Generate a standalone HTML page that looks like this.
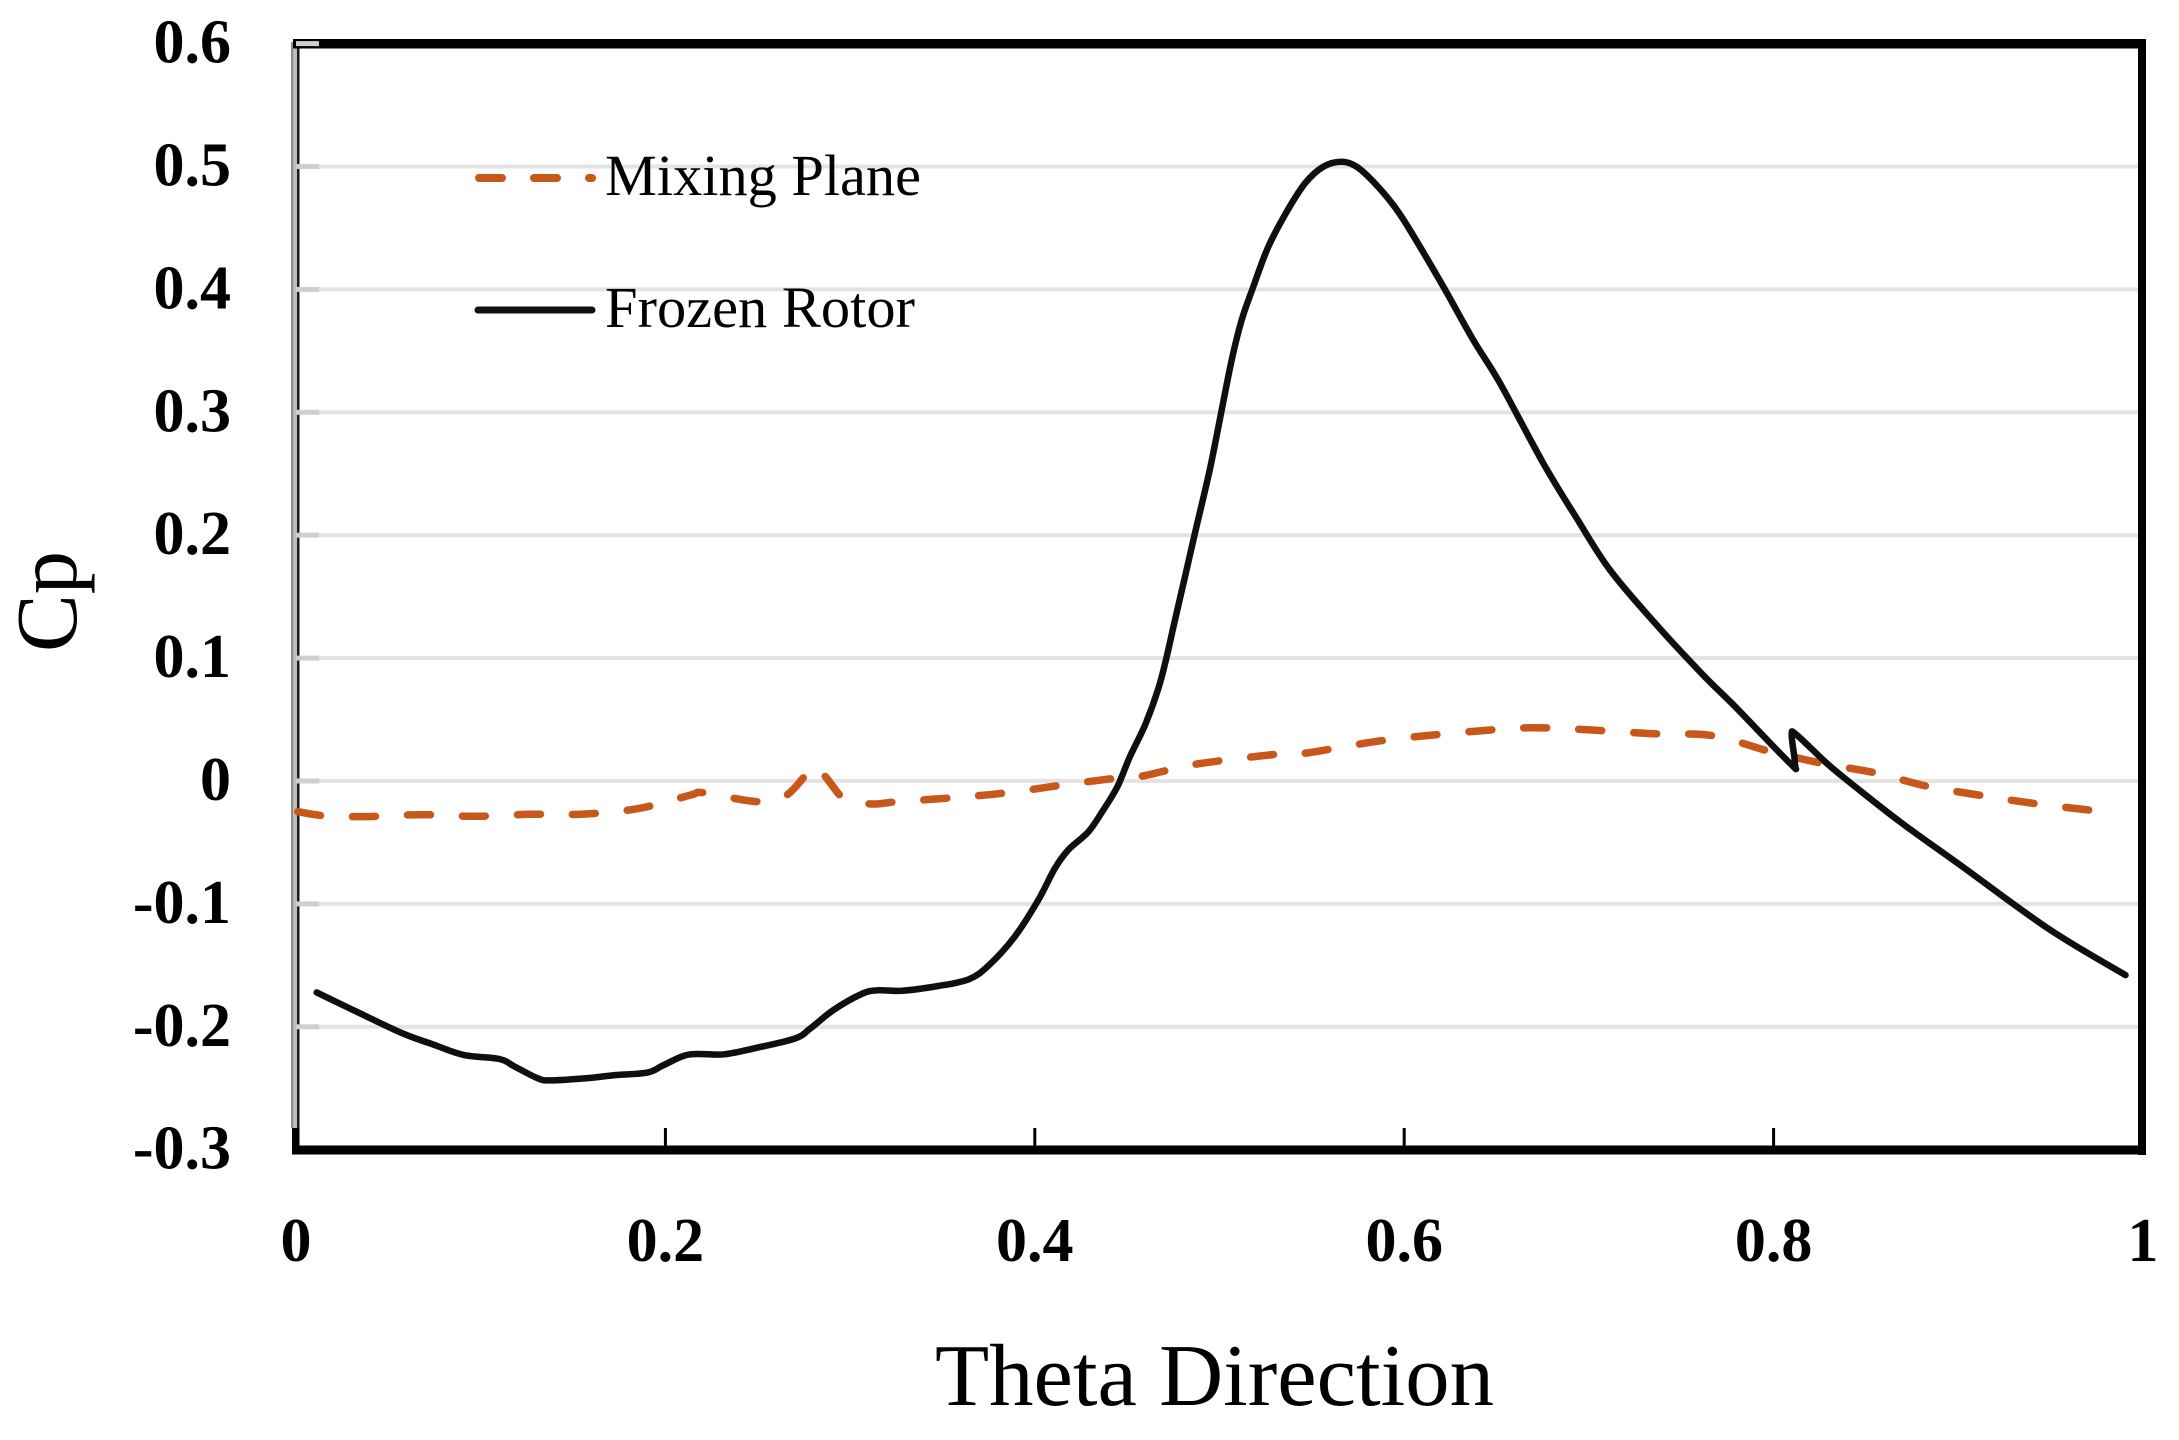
<!DOCTYPE html>
<html lang="en">
<head>
<meta charset="utf-8">
<title>Cp vs Theta Direction</title>
<style>
html,body{margin:0;padding:0;background:#fff;}
svg{display:block;}
text{font-family:"Liberation Serif",serif;fill:#000;}
.tick{font-size:62px;font-weight:bold;}
.legend-text{font-size:58px;}
</style>
</head>
<body>
<svg id="chart" width="2179" height="1440" viewBox="0 0 2179 1440" xmlns="http://www.w3.org/2000/svg">
  <g id="grid"></g>
  <rect x="291" y="42" width="2" height="1086" fill="#8a8a8a"/>
  <rect x="293" y="42" width="4" height="1086" fill="#bdbdbd"/>
  <rect x="297" y="46" width="2.5" height="1082" fill="#1c1c1c"/>
  <rect x="292" y="1128" width="7.5" height="26" fill="#000"/>
  <rect x="293" y="39" width="1853" height="9.5" fill="#000"/>
  <rect x="2138" y="39" width="8" height="1116" fill="#000"/>
  <rect x="292" y="1145.5" width="1854" height="9" fill="#000"/>
  <g id="stubs"></g>
  <g id="xticks"></g>
  <g id="ylabels"></g>
  <g id="xlabels"></g>
  <path id="mixing" fill="none" stroke="#c8581a" stroke-width="7.5" stroke-linecap="round" stroke-linejoin="round" stroke-dasharray="23 32"/>
  <path id="frozen" fill="none" stroke="#0f0f0f" stroke-width="6.5" stroke-linecap="round" stroke-linejoin="round"/>
  <g>
    <line x1="479" y1="178" x2="592" y2="178" stroke="#c8581a" stroke-width="8" stroke-linecap="round" stroke-dasharray="23 32"/>
    <text class="legend-text" x="605" y="195" textLength="316" lengthAdjust="spacingAndGlyphs">Mixing Plane</text>
    <line x1="478" y1="310" x2="592" y2="310" stroke="#111" stroke-width="7" stroke-linecap="round"/>
    <text class="legend-text" x="605" y="327" textLength="310" lengthAdjust="spacingAndGlyphs">Frozen Rotor</text>
  </g>
  <text x="935" y="1405" font-size="88" textLength="559" lengthAdjust="spacingAndGlyphs">Theta Direction</text>
  <text transform="translate(76,652) rotate(-90)" x="0" y="0" font-size="87" textLength="101" lengthAdjust="spacingAndGlyphs">Cp</text>
</svg>
<script>
var yTickValues = [0.6, 0.5, 0.4, 0.3, 0.2, 0.1, 0, -0.1, -0.2, -0.3];
var yTickLabels = ["0.6", "0.5", "0.4", "0.3", "0.2", "0.1", "0", "-0.1", "-0.2", "-0.3"];
var xTickValues = [0, 0.2, 0.4, 0.6, 0.8, 1];
var xTickLabels = ["0", "0.2", "0.4", "0.6", "0.8", "1"];

var frozenTheta = [0.0112, 0.0328, 0.0576, 0.0742, 0.0908, 0.1101, 0.1184, 0.1309, 0.1377, 0.157, 0.1736, 0.1902, 0.1985, 0.2095, 0.2179, 0.2317, 0.2482, 0.2703, 0.2786, 0.291, 0.3062, 0.3146, 0.3283, 0.3477, 0.3643, 0.3753, 0.3891, 0.4019, 0.4109, 0.4181, 0.429, 0.4371, 0.4447, 0.4515, 0.4597, 0.4669, 0.4714, 0.4759, 0.4813, 0.4867, 0.4949, 0.5012, 0.5066, 0.512, 0.5183, 0.5264, 0.5364, 0.5463, 0.5562, 0.5662, 0.5743, 0.5833, 0.5941, 0.6031, 0.6212, 0.6374, 0.6519, 0.6753, 0.6934, 0.7114, 0.7367, 0.7619, 0.78, 0.8089, 0.8116, 0.8098, 0.8125, 0.8288, 0.8431, 0.8684, 0.9009, 0.9495, 0.9905];
var frozenCp = [-0.172, -0.1877, -0.2053, -0.2143, -0.2229, -0.2262, -0.2324, -0.2419, -0.2436, -0.2419, -0.2392, -0.2373, -0.2316, -0.2238, -0.2221, -0.2224, -0.2175, -0.2094, -0.2012, -0.1863, -0.1733, -0.1703, -0.1706, -0.1668, -0.1613, -0.1497, -0.1267, -0.0968, -0.071, -0.0561, -0.0413, -0.0236, -0.0046, 0.0198, 0.0456, 0.0754, 0.1011, 0.131, 0.1662, 0.2015, 0.2544, 0.3019, 0.3426, 0.3751, 0.4022, 0.4347, 0.4632, 0.4863, 0.4998, 0.5039, 0.4998, 0.4876, 0.4687, 0.4483, 0.4022, 0.3588, 0.3236, 0.2585, 0.2138, 0.1717, 0.1269, 0.0862, 0.0592, 0.0144, 0.0135, 0.0374, 0.0375, 0.0144, -0.0033, -0.0331, -0.0683, -0.1209, -0.1579];

var mixingTheta = [0.001, 0.0148, 0.0369, 0.0673, 0.0963, 0.1267, 0.1557, 0.1861, 0.2137, 0.2206, 0.2496, 0.2648, 0.2756, 0.281, 0.2873, 0.2972, 0.3117, 0.3259, 0.3557, 0.3855, 0.4147, 0.4445, 0.4586, 0.4878, 0.5322, 0.5471, 0.5918, 0.6495, 0.6794, 0.7334, 0.7669, 0.7968, 0.8266, 0.8564, 0.8825, 0.9141, 0.9421, 0.9719];
var mixingCp = [-0.025, -0.0282, -0.029, -0.0274, -0.0287, -0.0271, -0.0269, -0.0222, -0.0114, -0.0095, -0.0168, -0.0122, 0.0041, 0.0122, 0.0024, -0.0149, -0.0187, -0.0168, -0.0136, -0.0095, -0.0033, 0.0024, 0.0041, 0.0138, 0.022, 0.0228, 0.0336, 0.0418, 0.0431, 0.0386, 0.0369, 0.0246, 0.0143, 0.0062, -0.0041, -0.0122, -0.0185, -0.0238];

function xScale(v) { return 296 + 1847 * v; }
function yScale(v) { return 781 - 1229 * v; }

var SVGNS = "http://www.w3.org/2000/svg";
function make(tag, parentId) {
  var el = document.createElementNS(SVGNS, tag);
  document.getElementById(parentId).appendChild(el);
  return el;
}

function buildPath(xs, ys) {
  var pts = xs.map(function (x, i) { return [xScale(x), yScale(ys[i])]; });
  var d = "M" + pts[0][0].toFixed(1) + " " + pts[0][1].toFixed(1);
  for (var i = 0; i < pts.length - 1; i++) {
    var p0 = pts[Math.max(i - 1, 0)], p1 = pts[i], p2 = pts[i + 1], p3 = pts[Math.min(i + 2, pts.length - 1)];
    var c1x = p1[0] + (p2[0] - p0[0]) / 6, c1y = p1[1] + (p2[1] - p0[1]) / 6;
    var c2x = p2[0] - (p3[0] - p1[0]) / 6, c2y = p2[1] - (p3[1] - p1[1]) / 6;
    d += "C" + c1x.toFixed(1) + " " + c1y.toFixed(1) + " " + c2x.toFixed(1) + " " + c2y.toFixed(1) + " " + p2[0].toFixed(1) + " " + p2[1].toFixed(1);
  }
  return d;
}

yTickValues.forEach(function (v, i) {
  var y = yScale(v);
  if (v > -0.3 && v < 0.6) {
    var line = make("rect", "grid");
    
    
    line.setAttribute("x", 299);
    line.setAttribute("y", y - 2);
    line.setAttribute("width", 1839);
    line.setAttribute("height", 4);
    line.setAttribute("fill", "#e3e3e3");
  }
  if (v > -0.3) {
    var stub = make("rect", "stubs");
    
    
    stub.setAttribute("x", 296);
    stub.setAttribute("y", y - 2.5);
    stub.setAttribute("width", 23);
    stub.setAttribute("height", 5);
    stub.setAttribute("fill", "#cfcfcf");
  }
  var label = make("text", "ylabels");
  
  
  label.setAttribute("class", "tick");
  label.setAttribute("x", 231);
  label.setAttribute("y", y + 19);
  label.setAttribute("text-anchor", "end");
  label.textContent = yTickLabels[i];
});

xTickValues.forEach(function (v, i) {
  var x = xScale(v);
  if (v > 0 && v < 1) {
    var tick = make("rect", "xticks");
    
    
    tick.setAttribute("x", x - 1.5);
    tick.setAttribute("y", 1128);
    tick.setAttribute("width", 3);
    tick.setAttribute("height", 18);
    tick.setAttribute("fill", "#000");
  }
  var label = make("text", "xlabels");
  
  
  label.setAttribute("class", "tick");
  label.setAttribute("x", x);
  label.setAttribute("y", 1261);
  label.setAttribute("text-anchor", "middle");
  label.textContent = xTickLabels[i];
});

document.getElementById("mixing").setAttribute("d", buildPath(mixingTheta, mixingCp));
document.getElementById("frozen").setAttribute("d", buildPath(frozenTheta, frozenCp));
</script>
</body>
</html>
